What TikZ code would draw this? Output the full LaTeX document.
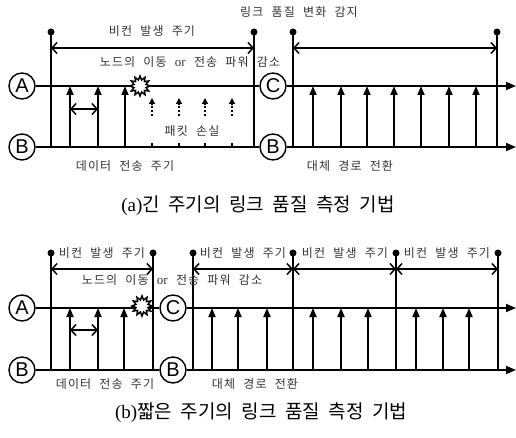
\documentclass[tikz,border=0pt]{standalone}
\usepackage{fontspec}
\setmainfont{Liberation Serif}
\newfontfamily\kr{Noto Sans CJK KR}[LetterSpace=9,WordSpace=2.2]
\newfontfamily\krcap{Noto Sans CJK KR}[WordSpace=2]
\newfontfamily\lat{Liberation Sans}
\usetikzlibrary{arrows.meta,shapes.geometric}
\newcommand{\orw}{{\rmfamily\fontsize{13}{13}\selectfont or}}
\tikzset{
  lbl/.style={font=\kr\fontsize{12}{13}\selectfont, text=black!80, inner sep=0pt},
  captext/.style={font=\krcap\fontsize{19}{21}\selectfont, inner sep=0pt},
  ab/.style={circle, draw, line width=1.4pt, minimum size=26pt, inner sep=0pt, fill=white, font=\lat\fontsize{20}{20}\selectfont},
  tl/.style={line width=1.8pt},
  axis/.style={line width=1.8pt, -{Triangle[width=8pt,length=10pt]}},
  up/.style={line width=1.8pt, -{Triangle[width=7pt,length=9pt]}},
  per/.style={line width=1.5pt, {Straight Barb[length=5pt,width=11pt]}-{Straight Barb[length=5pt,width=11pt]}},
  dotv/.style={circle, fill, inner sep=0pt, minimum size=7pt},
  boom/.style={star, star points=12, star point ratio=1.6, minimum size=20pt, inner sep=0pt, draw, fill=white, line width=1.5pt},
  lost/.style={line width=1.4pt, dash pattern=on 2pt off 2pt, -{Triangle[width=6pt,length=6pt]}}
}
\begin{document}
\begin{tikzpicture}[x=1pt,y=-1pt]
\useasboundingbox (0,0) rectangle (516,438);
% ===================== (a) =====================
\node[ab] (A1) at (22,86) {A};
\node[ab] (B1) at (22,147) {B};
\node[ab] (C1) at (273,86) {C};
\node[ab] (B1r) at (273,147) {B};
\coordinate (A1e) at (516,86);
\coordinate (B1e) at (516,147);
\draw[tl] (A1) -- (C1);
\draw[axis] (C1) -- (A1e);
\draw[tl] (B1) -- (B1r);
\draw[axis] (B1r) -- (B1e);
% verticals with dots
\foreach \x [count=\i] in {51,254,293,497} {
  \node[dotv] (ta\i) at (\x,32) {};
  \coordinate (tb\i) at (\x,147);
  \draw[tl] (ta\i.center) -- (tb\i);
}
\coordinate (pa1) at (51,48); \coordinate (pa2) at (254,48);
\coordinate (pa3) at (293,48); \coordinate (pa4) at (497,48);
\draw[per] (pa1) -- (pa2);
\draw[per] (pa3) -- (pa4);
% data arrows
\foreach \x [count=\i] in {70,98,125,313,341,367,394,421,449,476} {
  \coordinate (da\i) at (\x,147);
  \coordinate (dt\i) at (\x,86);
  \draw[up] (da\i) -- (dt\i);
}
\coordinate (sa1) at (70,109); \coordinate (sa2) at (98,109);
\draw[per] (sa1) -- (sa2);
% lost packets
\foreach \x [count=\i] in {152,179,205,232} {
  \coordinate (lb\i) at (\x,116);
  \coordinate (lt\i) at (\x,98);
  \draw[lost] (lb\i) -- (lt\i);
  \coordinate (kb\i) at (\x,147);
  \coordinate (kt\i) at (\x,143);
  \draw[line width=1.2pt] (kb\i) -- (kt\i);
}
\node[boom] (S1) at (140,86) {};
% labels
\node[lbl] (l1) at (152,31) {비컨 발생 주기};
\node[lbl] (l2) at (299,12) {링크 품질 변화 감지};
\node[lbl] (l3) at (190,62) {노드의 이동 \orw{} 전송 파워 감소};
\node[lbl] (l4) at (192,131) {패킷 손실};
\node[lbl] (l5) at (125,166) {데이터 전송 주기};
\node[lbl] (l6) at (350,166) {대체 경로 전환};
\node[captext] (capa) at (258,206) {{\rmfamily(a)}긴 주기의 링크 품질 측정 기법};
% ===================== (b) =====================
\node[ab] (A2) at (22,308) {A};
\node[ab] (B2) at (22,370) {B};
\node[ab] (C2) at (173,308) {C};
\node[ab] (B2r) at (173,370) {B};
\coordinate (A2e) at (516,308);
\coordinate (B2e) at (516,370);
\draw[tl] (A2) -- (C2);
\draw[axis] (C2) -- (A2e);
\draw[tl] (B2) -- (B2r);
\draw[axis] (B2r) -- (B2e);
\foreach \x [count=\i] in {51,153,193,293,396,498} {
  \node[dotv] (ba\i) at (\x,253) {};
  \coordinate (bb\i) at (\x,370);
  \draw[tl] (ba\i.center) -- (bb\i);
}
\coordinate (qa1) at (51,269); \coordinate (qa2) at (153,269);
\coordinate (qa3) at (193,269); \coordinate (qa4) at (293,269);
\coordinate (qa5) at (396,269); \coordinate (qa6) at (498,269);
\draw[per] (qa1) -- (qa2);
\draw[per] (qa3) -- (qa4);
\draw[per] (qa4) -- (qa5);
\draw[per] (qa5) -- (qa6);
\foreach \x [count=\i] in {70,98,124,212,238,267,313,341,368,416,443,469} {
  \coordinate (ea\i) at (\x,370);
  \coordinate (et\i) at (\x,308);
  \draw[up] (ea\i) -- (et\i);
}
\coordinate (sb1) at (70,330); \coordinate (sb2) at (98,330);
\draw[per] (sb1) -- (sb2);
\node[boom] (S2) at (142,306) {};
\node[lbl] (m1) at (102,253) {비컨 발생 주기};
\node[lbl] (m2) at (243,253) {비컨 발생 주기};
\node[lbl] (m3) at (345,253) {비컨 발생 주기};
\node[lbl] (m4) at (447,253) {비컨 발생 주기};
\node[lbl] (m5) at (172,280) {노드의 이동 \orw{} 전송 파워 감소};
\node[lbl] (m6) at (105,384) {데이터 전송 주기};
\node[lbl] (m7) at (255,384) {대체 경로 전환};
\node[captext] (capb) at (261,413) {{\rmfamily(b)}짧은 주기의 링크 품질 측정 기법};
\end{tikzpicture}
\end{document}
